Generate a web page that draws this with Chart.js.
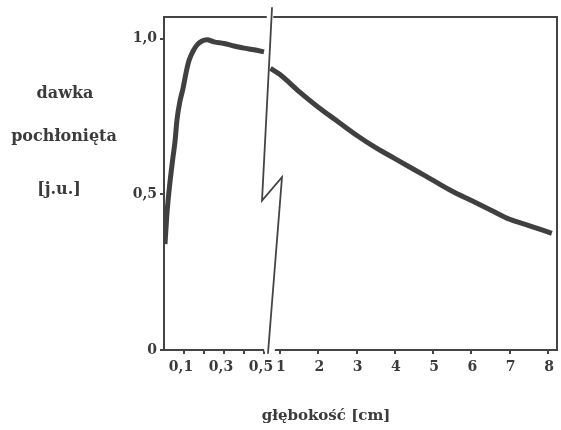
<!DOCTYPE html>
<html>
<head>
<meta charset="utf-8">
<script src="https://cdn.jsdelivr.net/npm/chart.js@4/dist/chart.umd.min.js"></script>
<style>
  html, body { margin: 0; padding: 0; background: #fff; }
  #wrap { width: 561px; height: 430px; }
</style>
</head>
<body>
<div id="wrap"><canvas id="doseChart" width="561" height="430"></canvas></div>
<script>
// dawka w warstwie przypowierzchniowej (0 - 0,5 cm)
const depthShallow = [0.005, 0.015, 0.03, 0.045, 0.055, 0.065, 0.08, 0.095, 0.11, 0.125, 0.145, 0.165, 0.19, 0.215, 0.25, 0.3, 0.35, 0.4, 0.45, 0.5];
const doseShallow = [0.34, 0.44, 0.54, 0.62, 0.67, 0.74, 0.8, 0.84, 0.89, 0.93, 0.96, 0.98, 0.993, 0.997, 0.99, 0.985, 0.977, 0.97, 0.965, 0.958];

// dawka w glebi (od ok. 0,75 cm do 8 cm)
const depthDeep = [0.75, 1, 1.5, 2, 2.5, 3, 3.5, 4, 4.5, 5, 5.5, 6, 6.5, 7, 7.5, 8.1];
const doseDeep = [0.905, 0.885, 0.83, 0.78, 0.735, 0.69, 0.65, 0.615, 0.58, 0.545, 0.51, 0.48, 0.45, 0.42, 0.4, 0.375];

const shallowTicks = [0.1, 0.2, 0.3, 0.4, 0.5];
const shallowLabeled = [0.1, 0.3, 0.5];
const deepTicks = [1, 2, 3, 4, 5, 6, 7, 8];
const yTicks = [0, 0.5, 1.0];

const ink = "#3b3b3b";
const font = { family: "'DejaVu Serif', serif", size: 14, weight: "bold" };

function comma(v) {
  return v.toFixed(1).replace(".", ",");
}

function noPad(s, h) {
  s.height = h;
  s.paddingLeft = 0;
  s.paddingRight = 0;
}

// ramka, przerwa osi i opisy
const framePlugin = {
  id: "frame",
  afterDraw(chart) {
    const { ctx, chartArea: a, scales } = chart;
    const xb = scales.x.right;
    const y = scales.y;
    ctx.save();
    ctx.lineCap = "round";
    // przerwa w dolnej osi
    ctx.strokeStyle = "#fff";
    ctx.lineWidth = 4;
    ctx.beginPath();
    ctx.moveTo(xb - 2, a.bottom);
    ctx.lineTo(xb + 5, a.bottom);
    ctx.stroke();

    ctx.strokeStyle = "#444";
    ctx.lineWidth = 2;
    ctx.beginPath();
    ctx.moveTo(a.left, a.top);
    ctx.lineTo(xb - 2, a.top);
    ctx.moveTo(xb + 6, a.top);
    ctx.lineTo(a.right, a.top);
    ctx.lineTo(a.right, a.bottom);
    ctx.stroke();

    // zygzak przerwy
    ctx.lineWidth = 1.8;
    ctx.beginPath();
    ctx.moveTo(xb + 4, a.top - 9);
    ctx.lineTo(xb - 6, y.getPixelForValue(0.48));
    ctx.lineTo(xb + 14, y.getPixelForValue(0.555));
    ctx.lineTo(xb, a.bottom + 3);
    ctx.stroke();

    // opisy osi
    ctx.fillStyle = ink;
    ctx.textAlign = "center";
    ctx.textBaseline = "middle";
    ctx.font = "bold 16px 'DejaVu Serif', serif";
    ctx.fillText("dawka", 65, 94);
    ctx.fillText("pochłonięta", 64, 137);
    ctx.fillText("[j.u.]", 59, 190);
    ctx.font = "bold 15px 'DejaVu Serif', serif";
    ctx.fillText("głębokość [cm]", 326, 416);
    ctx.restore();
  }
};

const ctx = document.getElementById("doseChart").getContext("2d");

new Chart(ctx, {
  type: "line",
  data: {
    datasets: [
      {
        data: depthShallow.map((d, i) => ({ x: d, y: doseShallow[i] })),
        xAxisID: "x",
        borderColor: "#404040",
        borderWidth: 5,
        pointRadius: 0,
        cubicInterpolationMode: "monotone",
        fill: false,
      },
      {
        data: depthDeep.map((d, i) => ({ x: d, y: doseDeep[i] })),
        xAxisID: "x2",
        borderColor: "#404040",
        borderWidth: 5,
        pointRadius: 0,
        cubicInterpolationMode: "monotone",
        fill: false,
      },
    ],
  },
  options: {
    responsive: false,
    animation: false,
    layout: { padding: { top: 17, right: 4, left: 0, bottom: 0 } },
    plugins: { legend: { display: false }, tooltip: { enabled: false } },
    scales: {
      x: {
        type: "linear",
        position: "bottom",
        stack: "depth",
        stackWeight: 104,
        min: 0,
        max: 0.52,
        afterBuildTicks: (s) => { s.ticks = shallowTicks.map((v) => ({ value: v })); },
        afterFit: (s) => noPad(s, 80),
        border: { color: "#444", width: 2 },
        grid: { drawOnChartArea: false, tickLength: 4, color: "#444", lineWidth: 2 },
        ticks: {
          autoSkip: false,
          maxRotation: 0,
          padding: 5,
          labelOffset: -3,
          color: ink,
          font: font,
          callback: (v) => (shallowLabeled.some((t) => Math.abs(t - v) < 1e-6) ? comma(v) : ""),
        },
      },
      x2: {
        type: "linear",
        position: "bottom",
        stack: "depth",
        stackWeight: 289,
        min: 0.687,
        max: 8.235,
        afterBuildTicks: (s) => { s.ticks = deepTicks.map((v) => ({ value: v })); },
        afterFit: (s) => noPad(s, 80),
        border: { color: "#444", width: 2 },
        grid: { drawOnChartArea: false, tickLength: 4, color: "#444", lineWidth: 2 },
        ticks: { autoSkip: false, maxRotation: 0, padding: 5, labelOffset: 1, color: ink, font: font, callback: (v) => String(v) },
      },
      y: {
        type: "linear",
        min: 0,
        max: 1.07,
        afterBuildTicks: (s) => { s.ticks = yTicks.map((v) => ({ value: v })); },
        afterFit: (s) => { s.width = 164; },
        border: { color: "#444", width: 2 },
        grid: { drawOnChartArea: false, tickLength: 4, color: "#444", lineWidth: 2 },
        ticks: { padding: 3, color: ink, font: font, callback: (v) => (v === 0 ? "0" : comma(v)) },
      },
    },
  },
  plugins: [framePlugin],
});
</script>
</body>
</html>
